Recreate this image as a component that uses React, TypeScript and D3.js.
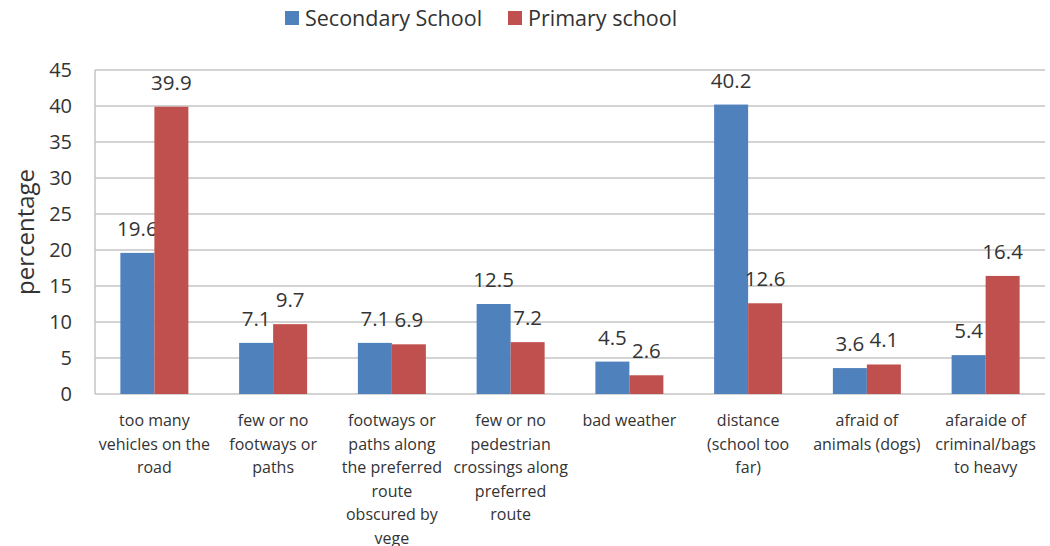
import React from "react";
import * as d3 from "d3";

const categories: string[][] = [
  ["too many", "vehicles on the", "road"],
  ["few or no", "footways or", "paths"],
  ["footways or", "paths along", "the preferred", "route", "obscured by", "vege"],
  ["few or no", "pedestrian", "crossings along", "preferred", "route"],
  ["bad weather"],
  ["distance", "(school too", "far)"],
  ["afraid of", "animals (dogs)"],
  ["afaraide of", "criminal/bags", "to heavy"],
];
const secondary = [19.6, 7.1, 7.1, 12.5, 4.5, 40.2, 3.6, 5.4];
const primary = [39.9, 9.7, 6.9, 7.2, 2.6, 12.6, 4.1, 16.4];
const seriesNames = ["Secondary School", "Primary school"];
const yTicks = [0, 5, 10, 15, 20, 25, 30, 35, 40, 45];

const W = 1050;
const H = 546;
const left = 95;
const right = 1045;
const top = 70;
const bottom = 394;
const colors = ["#4f81bd", "#c0504d"];
const textColor = "#333333";
const font = "'Open Sans', 'Liberation Sans', sans-serif";

export default function App() {
  const idx = categories.map((_, i) => String(i));
  const x = d3.scaleBand<string>().domain(idx).range([left, right]).paddingInner(0).paddingOuter(0);
  const y = d3.scaleLinear().domain([0, 45]).range([bottom, top]);
  const barW = 34;
  const series = [secondary, primary];

  return (
    <svg width={W} height={H} style={{ position: "absolute", left: 0, top: 0, fontFamily: font }}>
      <rect width={W} height={H} fill="#fff" />
      {/* gridlines */}
      {yTicks.map((t) => (
        <line key={t} x1={left} x2={right} y1={y(t)} y2={y(t)} stroke="#c4c4c4" strokeWidth={1.5} />
      ))}
      <line x1={left} x2={left} y1={top} y2={bottom} stroke="#c4c4c4" strokeWidth={1.5} />
      {/* y tick labels */}
      {yTicks.map((t) => (
        <text key={t} x={72} y={y(t)} dy="0.35em" textAnchor="end" fontSize={20} fill={textColor}>
          {t}
        </text>
      ))}
      <text
        transform={`translate(34,${(top + bottom) / 2}) rotate(-90)`}
        textAnchor="middle"
        fontSize={24}
        fill={textColor}
      >
        percentage
      </text>
      {/* bars */}
      {idx.map((k, i) => {
        const cx = (x(k) as number) + x.bandwidth() / 2;
        return (
          <g key={k}>
            {series.map((s, j) => {
              const bx = cx - barW + j * barW;
              return (
                <g key={j}>
                  <rect x={bx} y={y(s[i])} width={barW} height={bottom - y(s[i])} fill={colors[j]} />
                  <text
                    x={bx + barW / 2}
                    y={y(s[i]) - 17}
                    textAnchor="middle"
                    fontSize={20.5}
                    fill={textColor}
                  >
                    {s[i]}
                  </text>
                </g>
              );
            })}
            {categories[i].map((line, l) => (
              <text
                key={l}
                x={cx}
                y={426 + l * 23.5}
                textAnchor="middle"
                fontSize={16}
                fill={textColor}
              >
                {line}
              </text>
            ))}
          </g>
        );
      })}
      {/* legend */}
      {seriesNames.map((n, j) => {
        const lx = j === 0 ? 285 : 508;
        return (
          <g key={n}>
            <rect x={lx} y={11} width={14} height={14} fill={colors[j]} />
            <text x={lx + 20} y={18} dy="0.35em" fontSize={21.5} fill={textColor}>
              {n}
            </text>
          </g>
        );
      })}
    </svg>
  );
}
